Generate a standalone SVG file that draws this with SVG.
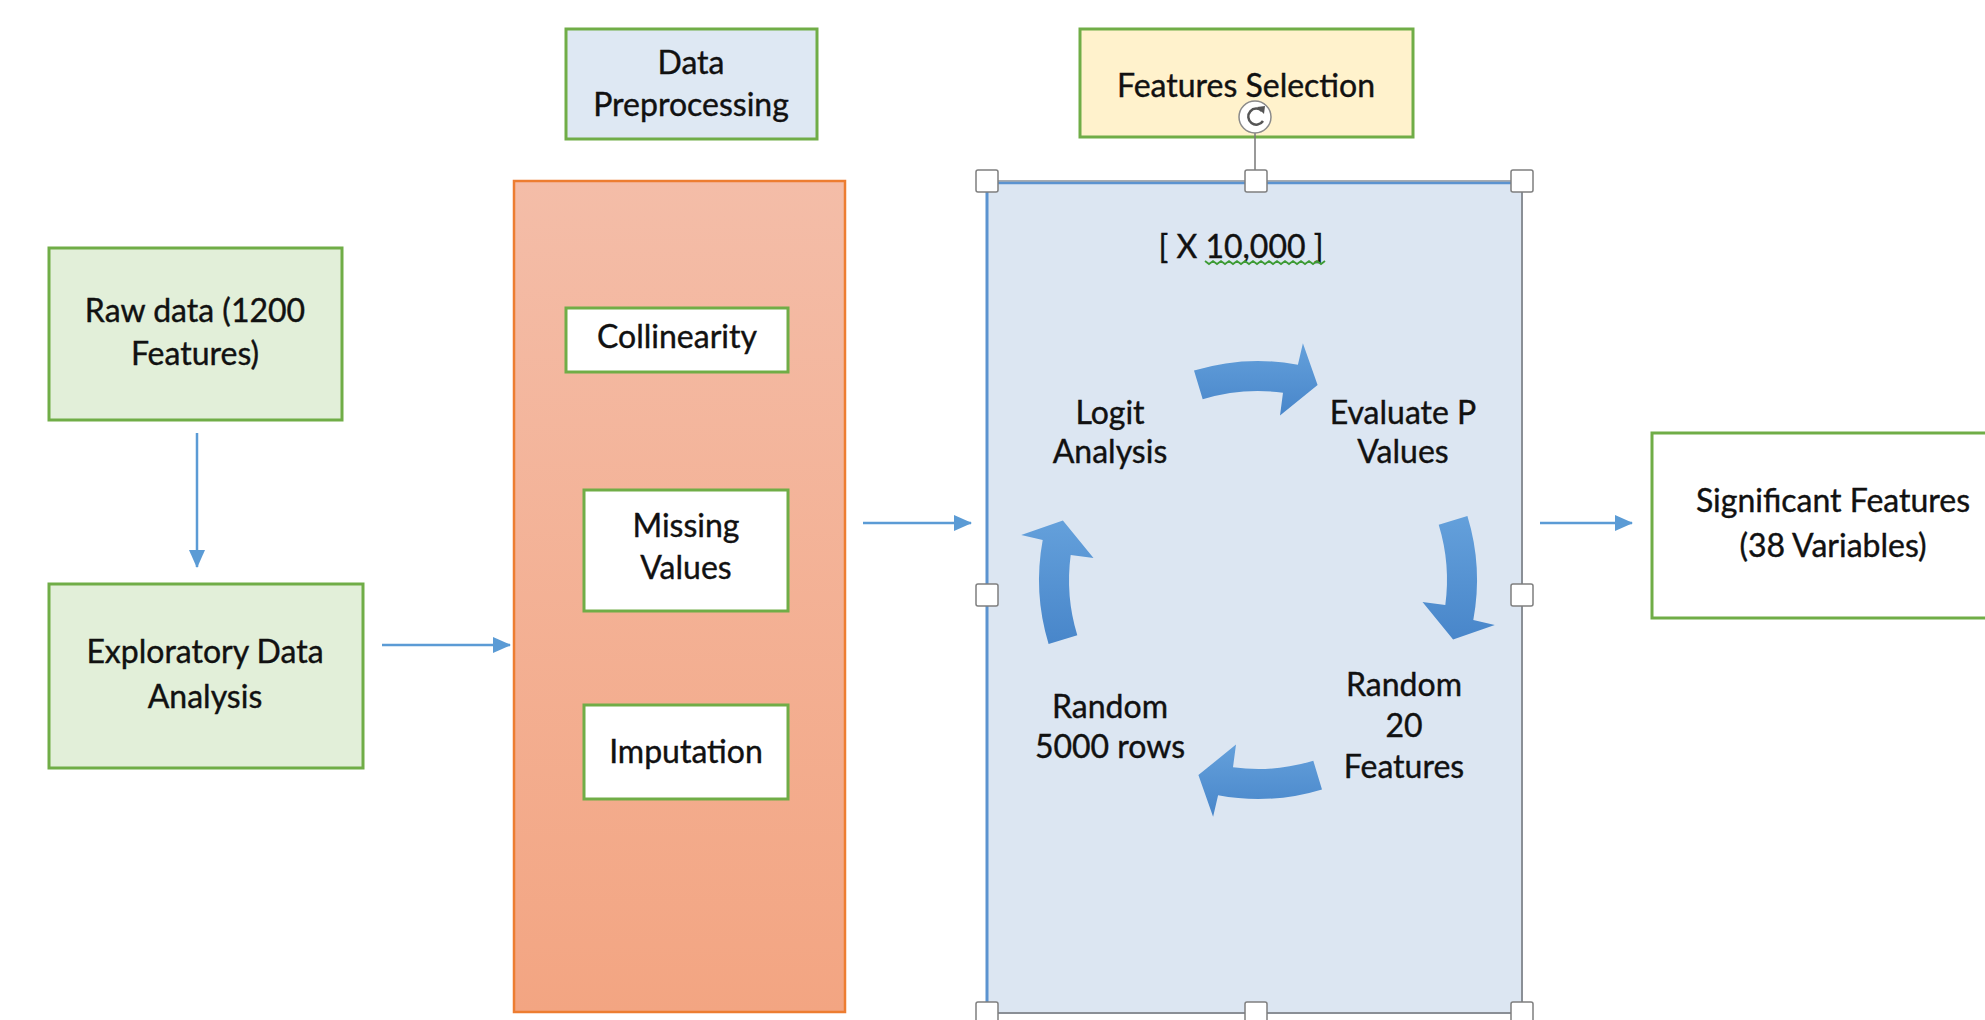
<svg xmlns="http://www.w3.org/2000/svg" width="1985" height="1020" viewBox="0 0 1985 1020">
  <defs>
    <linearGradient id="orangeFill" x1="0" y1="0" x2="0" y2="1">
      <stop offset="0" stop-color="#f4bda8"/>
      <stop offset="1" stop-color="#f3a582"/>
    </linearGradient>
    <linearGradient id="cycleFill" x1="0" y1="0" x2="0" y2="1">
      <stop offset="0" stop-color="#64a0db"/>
      <stop offset="1" stop-color="#4886ca"/>
    </linearGradient>
    <marker id="head" markerUnits="userSpaceOnUse" viewBox="0 0 18 16" markerWidth="18" markerHeight="16" refX="17" refY="8" orient="auto">
      <path d="M0,0 L18,8 L0,16 Z" fill="#5b9bd5"/>
    </marker>
    <style>
      text { font-family: Lato, "Liberation Sans", sans-serif; font-size: 32px; fill: #111; stroke: #111; stroke-width: 0.4; text-anchor: middle; }
      .box { stroke: #70ad47; stroke-width: 3; }
      .green { fill: #e2efd9; }
      .white { fill: #ffffff; }
      .conn { stroke: #5b9bd5; stroke-width: 2.5; fill: none; marker-end: url(#head); }
      .cyc { fill: url(#cycleFill); }
      .handle { fill: #ffffff; stroke: #7f7f7f; stroke-width: 1.5; }
    </style>
  </defs>

  <!-- connectors -->
  <g id="connectors">
    <line class="conn" x1="197" y1="433" x2="197" y2="567"/>
    <line class="conn" x1="382" y1="645" x2="510" y2="645"/>
    <line class="conn" x1="863" y1="523" x2="971" y2="523"/>
    <line class="conn" x1="1540" y1="523" x2="1632" y2="523"/>
  </g>

  <!-- section headers -->
  <g id="data-preprocessing-label">
    <rect class="box" x="566" y="29" width="251" height="110" fill="#dee8f3"/>
    <text x="691" y="74">Data</text>
    <text x="691" y="116">Preprocessing</text>
  </g>
  <g id="features-selection-label">
    <rect class="box" x="1080" y="29" width="333" height="108" fill="#fff2cc"/>
    <text x="1246" y="97">Features Selection</text>
  </g>

  <!-- input stage -->
  <g id="raw-data">
    <rect class="box green" x="49" y="248" width="293" height="172"/>
    <text x="195" y="322">Raw data (1200</text>
    <text x="195" y="365">Features)</text>
  </g>
  <g id="eda">
    <rect class="box green" x="49" y="584" width="314" height="184"/>
    <text x="205" y="663">Exploratory Data</text>
    <text x="205" y="708">Analysis</text>
  </g>

  <!-- preprocessing panel -->
  <g id="preprocessing">
    <rect x="514" y="181" width="331" height="831" fill="url(#orangeFill)" stroke="#ed7d31" stroke-width="2.5"/>
  </g>
  <g id="collinearity">
    <rect class="box white" x="566" y="308" width="222" height="64"/>
    <text x="677" y="348">Collinearity</text>
  </g>
  <g id="missing-values">
    <rect class="box white" x="584" y="490" width="204" height="121"/>
    <text x="686" y="537">Missing</text>
    <text x="686" y="579">Values</text>
  </g>
  <g id="imputation">
    <rect class="box white" x="584" y="705" width="204" height="94"/>
    <text x="686" y="763">Imputation</text>
  </g>

  <!-- feature selection panel (shown selected) -->
  <g id="selection-panel">
    <rect x="987" y="182" width="535" height="831" fill="#dce6f2"/>
    <line x1="987" y1="181" x2="1522" y2="181" stroke="#8a8f96" stroke-width="1.5"/>
    <line x1="987" y1="183" x2="1522" y2="183" stroke="#5b93d0" stroke-width="2.5"/>
    <line x1="987" y1="181" x2="987" y2="1013" stroke="#5b93d0" stroke-width="3"/>
    <line x1="1522" y1="181" x2="1522" y2="1013" stroke="#8a8f96" stroke-width="2"/>
    <line x1="987" y1="1013" x2="1522" y2="1013" stroke="#8a8f96" stroke-width="2"/>

    <text x="1241" y="258">[ X 10,000 ]</text>
    <path d="M1205,261 l4,3 4,-3 4,3 4,-3 4,3 4,-3 4,3 4,-3 4,3 4,-3 4,3 4,-3 4,3 4,-3 4,3 4,-3 4,3 4,-3 4,3 4,-3 4,3 4,-3 4,3 4,-3 4,3 4,-3 4,3 4,-3 4,3 4,-3" fill="none" stroke="#3d9b35" stroke-width="1.8"/>

    <!-- rotate handle and resize handles -->
    <line x1="1255" y1="133" x2="1255" y2="171" stroke="#777" stroke-width="1.5"/>
    <circle cx="1255" cy="117" r="16" fill="#ffffff" stroke="#8a8a8a" stroke-width="1.5"/>
    <path d="M1262,111 A8,8 0 1 0 1263,121" fill="none" stroke="#555" stroke-width="2.5"/>
    <path d="M1257,107 L1265,106 L1264,114 Z" fill="#555"/>

    <rect class="handle" x="976" y="170" width="22" height="22" rx="2"/>
    <rect class="handle" x="1245" y="170" width="22" height="22" rx="2"/>
    <rect class="handle" x="1511" y="170" width="22" height="22" rx="2"/>
    <rect class="handle" x="976" y="584" width="22" height="22" rx="2"/>
    <rect class="handle" x="1511" y="584" width="22" height="22" rx="2"/>
    <rect class="handle" x="976" y="1002" width="22" height="22" rx="2"/>
    <rect class="handle" x="1245" y="1002" width="22" height="22" rx="2"/>
    <rect class="handle" x="1511" y="1002" width="22" height="22" rx="2"/>
  </g>

  <!-- cycle arrows -->
  <g id="cycle-arrows">
    <path class="cyc" d="M1194,370.6 A219,219 0 0 1 1297.9,364.7 L1302.9,343.2 L1317.6,384.9 L1280,415.5 L1283,392.7 A189,189 0 0 0 1202.7,399.3 Z"/>
    <path class="cyc" d="M1467.4,516 A219,219 0 0 1 1473.3,619.9 L1494.8,624.9 L1453.1,639.6 L1422.5,602 L1445.3,605 A189,189 0 0 0 1438.7,524.7 Z"/>
    <path class="cyc" d="M1322,789.4 A219,219 0 0 1 1218.1,795.3 L1213.1,816.8 L1198.4,775.1 L1236,744.5 L1233,767.3 A189,189 0 0 0 1313.3,760.7 Z"/>
    <path class="cyc" d="M1048.6,644 A219,219 0 0 1 1042.7,540.1 L1021.2,535.1 L1062.9,520.4 L1093.5,558 L1070.7,555 A189,189 0 0 0 1077.3,635.3 Z"/>
  </g>

  <!-- cycle steps -->
  <g id="logit-analysis">
    <text x="1110" y="424">Logit</text>
    <text x="1110" y="463">Analysis</text>
  </g>
  <g id="evaluate-p-values">
    <text x="1403" y="424">Evaluate P</text>
    <text x="1403" y="463">Values</text>
  </g>
  <g id="random-20-features">
    <text x="1404" y="696">Random</text>
    <text x="1404" y="737">20</text>
    <text x="1404" y="778">Features</text>
  </g>
  <g id="random-5000-rows">
    <text x="1110" y="718">Random</text>
    <text x="1110" y="758">5000 rows</text>
  </g>

  <!-- output -->
  <g id="significant-features">
    <rect class="box white" x="1652" y="433" width="345" height="185"/>
    <text x="1833" y="512">Significant Features</text>
    <text x="1833" y="557">(38 Variables)</text>
  </g>
</svg>
